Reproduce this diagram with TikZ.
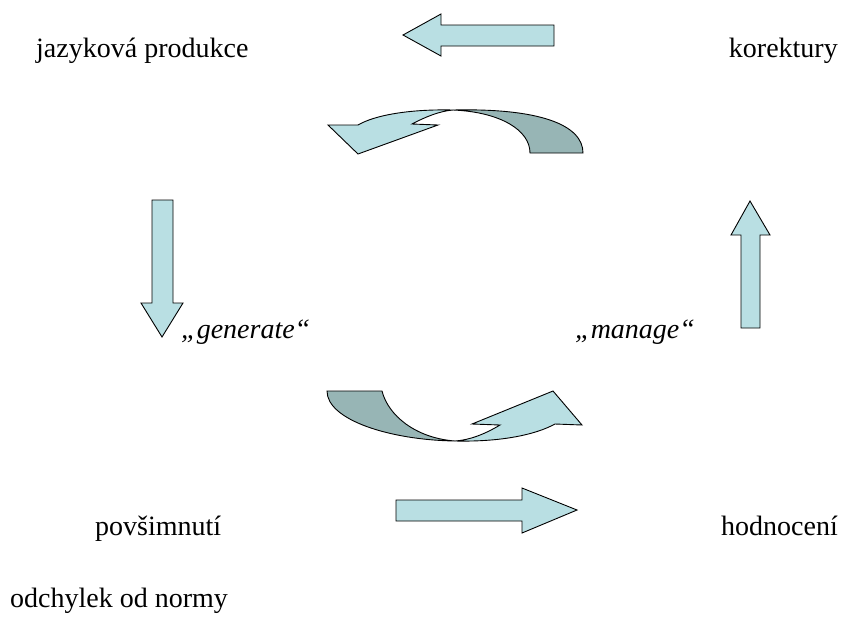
\documentclass[tikz,border=0pt]{standalone}
\usepackage{fontspec}
\setmainfont{Liberation Serif}
\definecolor{lightfill}{HTML}{B9DFE3}
\definecolor{darkfill}{HTML}{97B5B5}
\begin{document}
\begin{tikzpicture}[x=1pt,y=-1pt,
  lbl/.style={inner sep=0pt,font=\fontsize{28}{34}\selectfont},
  blockarrow/.style={draw=black,line width=0.9pt,fill=lightfill,line join=miter},
  backside/.style={draw=black,line width=0.9pt,fill=darkfill,line join=miter}]
\useasboundingbox (0,0) rectangle (848,622);
% labels
\node[lbl,anchor=base west] (jp) at (36,57) {jazyková produkce};
\node[lbl,anchor=base east] (ko) at (838,57) {korektury};
\node[lbl,anchor=base west] (po) at (95,535) {povšimnutí};
\node[lbl,anchor=base east] (ho) at (838,535) {hodnocení};
\node[lbl,anchor=base west] (od) at (10,607) {odchylek od normy};
\node[lbl,anchor=base west] (ge) at (181,338) {\itshape „generate“};
\node[lbl,anchor=base west] (ma) at (575,338) {\itshape „manage“};
% straight arrows
\draw[blockarrow] (554,25) -- (441,25) -- (441,14) -- (403,35) -- (441,56) -- (441,46) -- (554,46) -- cycle;
\draw[blockarrow] (396,500) -- (522,500) -- (522,488) -- (577,510) -- (522,533) -- (522,521) -- (396,521) -- cycle;
\draw[blockarrow] (152,200) -- (173,200) -- (173,303) -- (183,303) -- (162,337) -- (141,303) -- (152,303) -- cycle;
\draw[blockarrow] (741,328) -- (760,328) -- (760,235) -- (770,235) -- (750,201) -- (731,235) -- (741,235) -- cycle;
% top curved arrow
\draw[backside] (453,110) .. controls (540,108) and (583,125) .. (583,153) -- (530,153) .. controls (530,130) and (500,112) .. (453,110) -- cycle;
\draw[blockarrow] (453,110) .. controls (410,109) and (375,115) .. (358,125) -- (328,125) -- (358,154) -- (438,125) -- (412,124) .. controls (425,117) and (440,111) .. (453,110) -- cycle;
% bottom curved arrow
\draw[backside] (327,391) -- (382,391) .. controls (388,415) and (415,438) .. (455,441) .. controls (390,440) and (327,420) .. (327,391) -- cycle;
\draw[blockarrow] (455,441) .. controls (500,442) and (535,435) .. (555,424) -- (582,425) -- (553,391) -- (472,424) -- (500,425) .. controls (485,434) and (470,440) .. (455,441) -- cycle;
\end{tikzpicture}
\end{document}
